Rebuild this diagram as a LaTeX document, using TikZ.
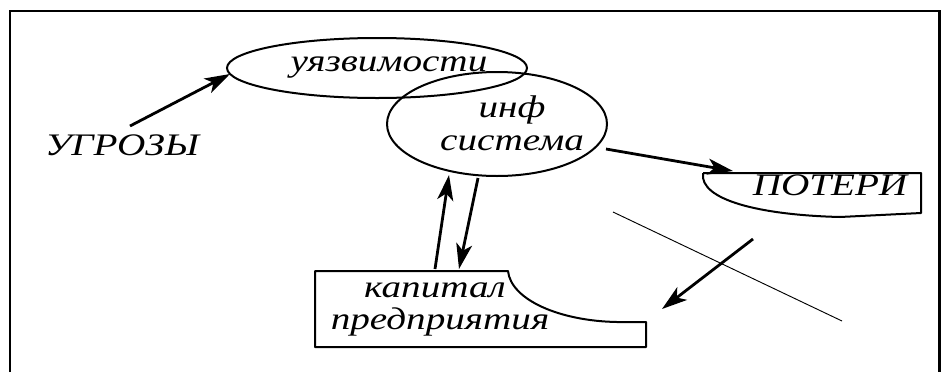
\documentclass[tikz,border=0pt]{standalone}
\usepackage{fontspec}
\usepackage{graphicx}
\setmainfont{Liberation Serif}
\usetikzlibrary{arrows.meta,shapes.geometric}
\newcommand\wdtxt[1]{\scalebox{1.25}[1]{#1}}
\begin{document}
\begin{tikzpicture}[x=0.75pt,y=-0.75pt,
  lbl/.style={font=\itshape\fontsize{23.5}{25}\selectfont, inner sep=0pt, anchor=center},
  oval/.style={draw, ellipse, line width=1.5pt, inner sep=0pt},
  shp/.style={draw, line width=1.5pt, line join=round},
  arr/.style={line width=2.1pt, -{Stealth[length=19pt,width=12pt,inset=5pt]}},
  thin/.style={line width=0.7pt}]
\useasboundingbox (0,0) rectangle (941,372);
\fill[white] (0,0) rectangle (941,372);
% frame
\draw[line width=2pt] (10,372) -- (10,11) -- (941,11);
\draw[line width=2pt] (939.5,11) -- (939.5,372);
% ellipses
\node[oval, minimum width=225pt, minimum height=45pt] (uz) at (377,68) {};
\node[oval, minimum width=165pt, minimum height=78pt] (is) at (497,124) {};
\node[lbl] (uzt) at (389,67) {\wdtxt{уязвимости}};
\node[lbl] (inf) at (512,110) {\wdtxt{инф}};
\node[lbl] (sys) at (512,143) {\wdtxt{система}};
% threats
\node[lbl] (ugr) at (122,145) {\wdtxt{УГРОЗЫ}};
\coordinate (ua) at (130,126);
\coordinate (ub) at (230,74);
\draw[arr] (ua) -- (ub);
% losses box
\draw[shp] (703,173) -- (921,173) -- (921,213) -- (840,217) .. controls (760,215) and (699,200) .. (703,173);
\node[lbl] (pot) at (830,185) {\wdtxt{ПОТЕРИ}};
\coordinate (pa) at (606,149);
\coordinate (pb) at (733,171);
\draw[arr] (pa) -- (pb);
% capital box
\draw[shp] (315,271) -- (508,271) .. controls (511,300) and (560,321) .. (617,322) -- (646,322) -- (646,347) -- (315,347) -- cycle;
\node[lbl] (kap) at (435,290) {\wdtxt{капитал}};
\node[lbl] (pred) at (440,322) {\wdtxt{предприятия}};
% arrows between capital and system
\coordinate (c1) at (435,269);
\coordinate (c2) at (449,175);
\draw[arr] (c1) -- (c2);
\coordinate (c3) at (478,178);
\coordinate (c4) at (459,269);
\draw[arr] (c3) -- (c4);
% crossed-out arrow
\coordinate (la) at (613,212);
\coordinate (lb) at (842,321);
\draw[thin] (la) -- (lb);
\coordinate (ka) at (753,239);
\coordinate (kb) at (662,309);
\draw[arr] (ka) -- (kb);
\end{tikzpicture}
\end{document}
